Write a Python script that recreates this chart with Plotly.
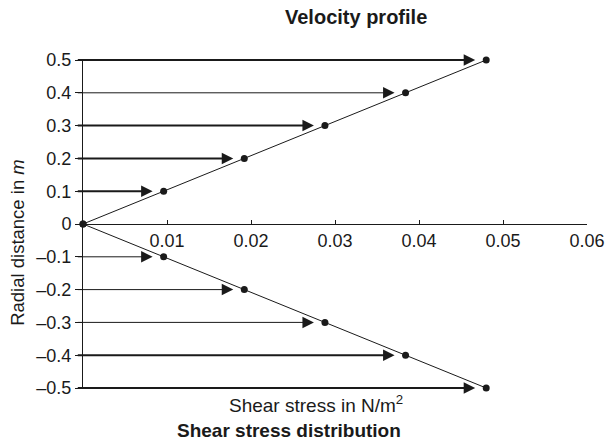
import plotly.graph_objects as go

# Data
radius = [0.5, 0.4, 0.3, 0.2, 0.1, 0.0, -0.1, -0.2, -0.3, -0.4, -0.5]
shear = [0.048, 0.0384, 0.0288, 0.0192, 0.0096, 0.0, 0.0096, 0.0192, 0.0288, 0.0384, 0.048]
y_ticks = [0.5, 0.4, 0.3, 0.2, 0.1, 0.0, -0.1, -0.2, -0.3, -0.4, -0.5]
y_ticktext = ["0.5", "0.4", "0.3", "0.2", "0.1", "0", "\u20130.1", "\u20130.2", "\u20130.3", "\u20130.4", "\u20130.5"]
x_ticks = [0.01, 0.02, 0.03, 0.04, 0.05, 0.06]
x_ticktext = ["0.01", "0.02", "0.03", "0.04", "0.05", "0.06"]

# Styles (arrow line widths per radius, excluding origin)
arrow_widths = {0.5: 2, 0.4: 1, 0.3: 2, 0.2: 2, 0.1: 2, -0.1: 1, -0.2: 1, -0.3: 1, -0.4: 2, -0.5: 2}

FONT = "Liberation Sans, Arial, sans-serif"
BLACK = "#1a1a1a"

fig = go.Figure()

upper_r = [r for r in radius if r >= 0]
upper_t = [t for r, t in zip(radius, shear) if r >= 0]
lower_r = [r for r in radius if r <= 0]
lower_t = [t for r, t in zip(radius, shear) if r <= 0]

for xs, ys in [(upper_t, upper_r), (lower_t, lower_r)]:
    fig.add_trace(go.Scatter(
        x=xs, y=ys, mode="lines+markers",
        line=dict(color=BLACK, width=1),
        marker=dict(color=BLACK, size=7),
        cliponaxis=False, showlegend=False, hoverinfo="skip"))

for r, t in zip(radius, shear):
    if r == 0:
        continue
    w = arrow_widths[r]
    fig.add_annotation(
        x=t, y=r, ax=-0.0008, ay=r, axref="x", ayref="y", xref="x", yref="y",
        text="", showarrow=True, arrowhead=2, arrowwidth=w, arrowsize=2.3 / w,
        arrowcolor=BLACK, standoff=11)

fig.add_annotation(text="<b>Velocity profile</b>", xref="paper", yref="paper",
                   x=0.542, y=1.131, showarrow=False, xanchor="center", yanchor="middle",
                   font=dict(family=FONT, size=20, color=BLACK))
fig.add_annotation(text="Shear stress in N/m<sup>2</sup>", xref="paper", yref="paper",
                   x=0.462, y=-0.049, showarrow=False, xanchor="center", yanchor="middle",
                   font=dict(family=FONT, size=19, color=BLACK))
fig.add_annotation(text="<b>Shear stress distribution</b>", xref="paper", yref="paper",
                   x=0.409, y=-0.131, showarrow=False, xanchor="center", yanchor="middle",
                   font=dict(family=FONT, size=19, color=BLACK))
fig.add_annotation(text="Radial distance in <i>m</i>", xref="paper", yref="paper",
                   x=-0.13, y=0.444, showarrow=False, textangle=-90,
                   xanchor="center", yanchor="middle",
                   font=dict(family=FONT, size=18.5, color=BLACK))

fig.update_layout(
    width=606, height=447,
    margin=dict(l=83, r=19, t=60, b=59, autoexpand=False),
    paper_bgcolor="white", plot_bgcolor="white",
    font=dict(family=FONT, size=18, color=BLACK),
    xaxis=dict(range=[0, 0.06], anchor="free", position=0.5, side="bottom",
               showline=True, linecolor=BLACK, linewidth=1,
               ticks="inside", ticklen=4, tickcolor=BLACK,
               tickvals=x_ticks, ticktext=x_ticktext,
               showgrid=False, zeroline=False, automargin=False),
    yaxis=dict(range=[-0.5, 0.5], showline=True, linecolor=BLACK, linewidth=1,
               ticks="outside", ticklen=7, tickcolor=BLACK,
               tickvals=y_ticks, ticktext=y_ticktext,
               showgrid=False, zeroline=False, automargin=False),
)

# Remove the default page margin and scrollbars so the 606x447 figure fills the window.
fig.write_html(
    "out.html",
    config={"displayModeBar": False},
    post_script="document.body.style.margin='0';document.body.style.overflow='hidden';"
                "document.documentElement.style.overflow='hidden';",
)
